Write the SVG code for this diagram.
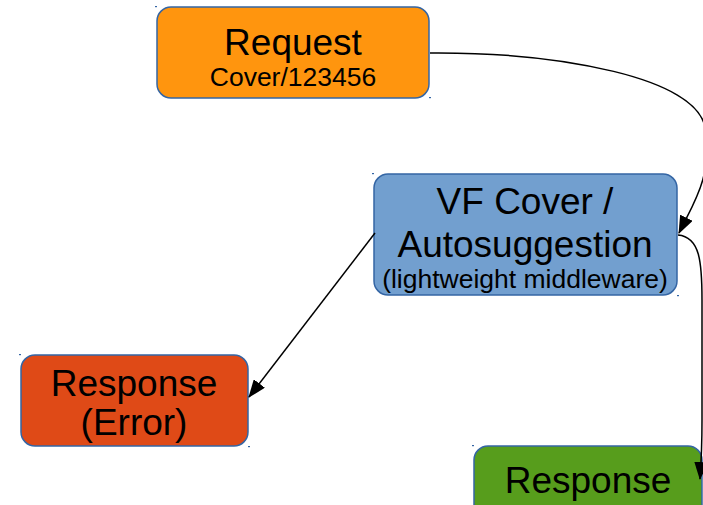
<svg xmlns="http://www.w3.org/2000/svg" width="703" height="505" viewBox="0 0 703 505">
  <style>
    .box { stroke: #3465A4; stroke-width: 1.5; }
    .t { font-family: "Liberation Sans", Arial, sans-serif; fill: #000; text-anchor: middle; }
    .big { font-size: 37px; }
    .small { font-size: 26.5px; }
    .con { fill: none; stroke: #000; stroke-width: 1.5; }
    .tick { fill: #3465A4; }
  </style>
  <defs>
    <marker id="arrow" viewBox="0 0 18 14" refX="17" refY="7" markerWidth="18" markerHeight="14" markerUnits="userSpaceOnUse" orient="auto">
      <path d="M0,0 L18,7 L0,14 Z" fill="#000"/>
    </marker>
  </defs>

  <g id="request">
    <rect class="box" x="157" y="7" width="272" height="91" rx="14" fill="#FF950E"/>
    <rect class="tick" x="155" y="6" width="2" height="1.2"/>
    <rect class="tick" x="429" y="97" width="2" height="1.2"/>
    <text class="t big" x="293" y="55">Request</text>
    <text class="t small" x="293" y="86">Cover/123456</text>
  </g>

  <g id="vfcover">
    <rect class="box" x="374" y="174" width="303" height="121" rx="14" fill="#729FCF"/>
    <rect class="tick" x="372" y="173" width="2" height="1.2"/>
    <rect class="tick" x="677" y="295" width="2" height="1.2"/>
    <text class="t big" x="525" y="214">VF Cover /</text>
    <text class="t big" x="525" y="257">Autosuggestion</text>
    <text class="t small" x="525" y="288">(lightweight middleware)</text>
  </g>

  <g id="response-error">
    <rect class="box" x="21" y="355" width="227" height="91" rx="14" fill="#DF4A17"/>
    <rect class="tick" x="19" y="354" width="2" height="1.2"/>
    <rect class="tick" x="248" y="446" width="2" height="1.2"/>
    <text class="t big" x="134" y="396">Response</text>
    <text class="t big" x="134" y="435">(Error)</text>
  </g>

  <g id="response">
    <rect class="box" x="474" y="446" width="228" height="91" rx="14" fill="#579D1C"/>
    <rect class="tick" x="472" y="445" width="2" height="1.2"/>
    <text class="t big" x="588" y="493">Response</text>
  </g>

  <g id="connectors">
    <path class="con" d="M430 53 C560 52, 698 78, 705 128 S 695 200, 679 233" marker-end="url(#arrow)"/>
    <path class="con" d="M678 235 C700 237, 702 262, 702 300 L702 420 C702 450, 701 465, 700 479" marker-end="url(#arrow)"/>
    <path class="con" d="M375 233 L249 397" marker-end="url(#arrow)"/>
  </g>
</svg>
